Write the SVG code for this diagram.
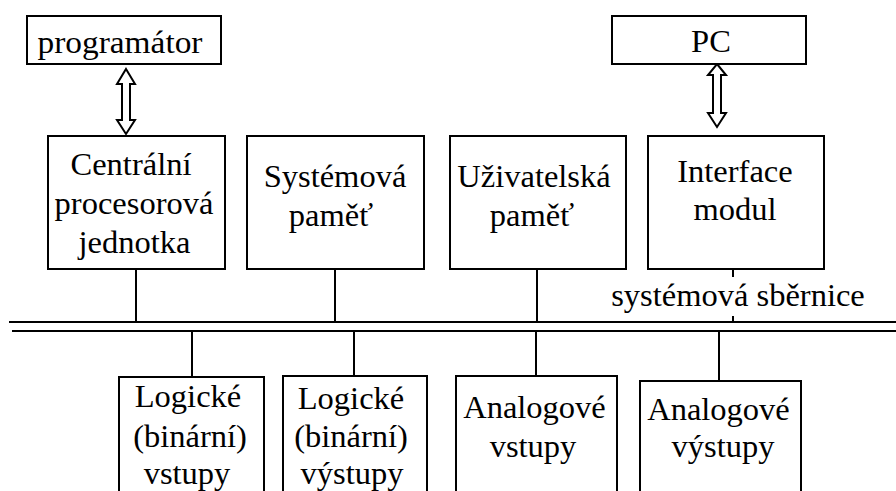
<svg xmlns="http://www.w3.org/2000/svg" width="896" height="491" viewBox="0 0 896 491">
<style>
.box{fill:#fff;stroke:#000;stroke-width:2}
.ln{stroke:#000;stroke-width:2;fill:none}
.arr{fill:#fff;stroke:#000;stroke-width:2;stroke-linejoin:miter}
text{font-family:'Liberation Serif','Times New Roman',serif;font-size:32.5px;fill:#000;text-anchor:middle}
</style>
<rect width="896" height="491" fill="#fff"/>
<g id="connectors">
<line class="ln" x1="9" y1="322" x2="896" y2="322"/>
<line class="ln" x1="12" y1="331" x2="896" y2="331"/>
<line class="ln" x1="136" y1="269" x2="136" y2="322"/>
<line class="ln" x1="335" y1="269" x2="335" y2="322"/>
<line class="ln" x1="537" y1="269" x2="537" y2="322"/>
<line class="ln" x1="733" y1="269" x2="733" y2="277"/>
<line class="ln" x1="733" y1="316" x2="733" y2="322"/>
<line class="ln" x1="192" y1="331" x2="192" y2="377"/>
<line class="ln" x1="354" y1="331" x2="354" y2="376"/>
<line class="ln" x1="536" y1="331" x2="536" y2="376"/>
<line class="ln" x1="719" y1="331" x2="719" y2="381"/>
<path class="arr" d="M126,69 L135,84 L130,84 L130,120 L135,120 L126,134 L117,120 L122,120 L122,84 L117,84 Z"/>
<path class="arr" d="M717,64 L726,75 L721,75 L721,113 L726,113 L717,127 L708,113 L713,113 L713,75 L708,75 Z"/>
</g>
<g id="programator"><rect class="box" x="27" y="16" width="194" height="48"/><text x="120" y="53" textLength="165" lengthAdjust="spacingAndGlyphs">programátor</text></g>
<g id="pc"><rect class="box" x="612" y="16" width="194" height="48"/><text x="711" y="52">PC</text></g>
<g id="cpu"><rect class="box" x="48" y="136" width="177" height="133"/>
<text x="131" y="175">Centrální</text><text x="134" y="214">procesorová</text><text x="134.5" y="253">jednotka</text></g>
<g id="sysmem"><rect class="box" x="247" y="136" width="177" height="133"/>
<text x="335" y="187">Systémová</text><text x="331" y="226">paměť</text></g>
<g id="usermem"><rect class="box" x="450" y="136" width="176" height="133"/>
<text x="534" y="187">Uživatelská</text><text x="532" y="226">paměť</text></g>
<g id="interface"><rect class="box" x="648" y="136" width="176" height="133"/>
<text x="735" y="182">Interface</text><text x="735" y="220">modul</text></g>
<g id="buslabel"><text x="738" y="306">systémová sběrnice</text></g>
<g id="login"><rect class="box" x="119" y="377" width="145" height="130"/>
<text x="188" y="407">Logické</text><text x="190" y="447">(binární)</text><text x="187" y="484">vstupy</text></g>
<g id="logout"><rect class="box" x="283" y="376" width="144" height="130"/>
<text x="351" y="409">Logické</text><text x="351" y="447">(binární)</text><text x="352" y="484">výstupy</text></g>
<g id="anin"><rect class="box" x="456" y="376" width="161" height="130"/>
<text x="534.5" y="418">Analogové</text><text x="533" y="457">vstupy</text></g>
<g id="anout"><rect class="box" x="640" y="381" width="161" height="130"/>
<text x="718.5" y="420">Analogové</text><text x="723" y="457">výstupy</text></g>
</svg>
